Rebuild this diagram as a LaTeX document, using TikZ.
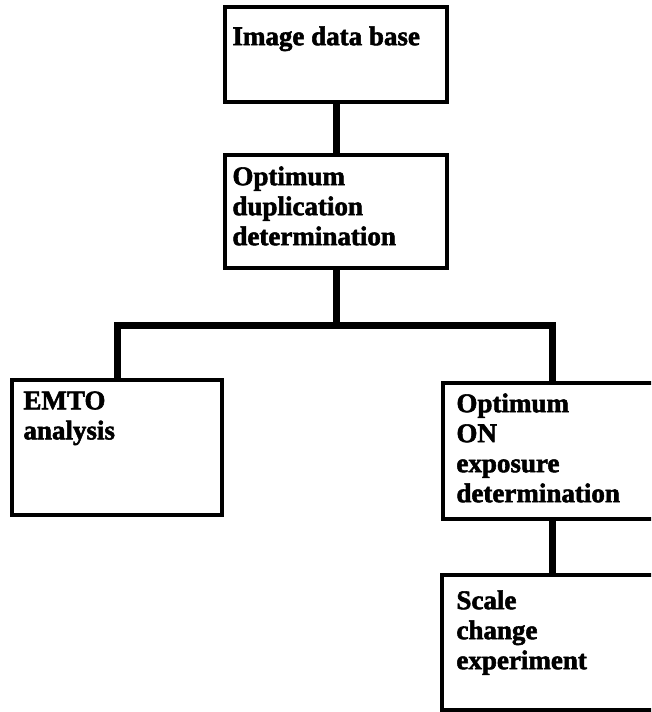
\documentclass[tikz,border=0pt]{standalone}
\usepackage{fontspec}
\setmainfont{Liberation Serif}[BoldFeatures={FakeBold=2}]
\usetikzlibrary{positioning}

\begin{document}
\begin{tikzpicture}[x=1pt, y=-1pt,
  box/.style={draw, line width=3.5pt, inner sep=0pt},
  lbl/.style={anchor=north west, inner sep=0pt, align=left,
    font=\fontsize{27}{30}\selectfont\bfseries},
  link/.style={line width=7pt}]
\clip (0,0) rectangle (651,712);
% Top of the chain
\node[box, minimum width=222pt, minimum height=95pt] (imgdb) at (336,54.5) {};
\node[lbl, xshift=9pt, yshift=-21pt] (imgdbtxt) at (imgdb.north west) {Image data base};
\node[box, minimum width=222pt, minimum height=113pt] (dup) at (336,211.5) {};
\node[lbl, xshift=9pt, yshift=-13pt] (duptxt) at (dup.north west)
  {Optimum\\duplication\\determination};

% Branches
\node[box, minimum width=210pt, minimum height=135pt] (emto) at (117,447.5) {};
\node[lbl, xshift=13pt, yshift=-13pt] (emtotxt) at (emto.north west) {EMTO\\analysis};
\node[box, minimum width=218pt, minimum height=136pt] (onexp) at (552,451) {};
\node[lbl, xshift=15pt, yshift=-12pt] (onexptxt) at (onexp.north west)
  {Optimum\\ON\\exposure\\determination};
\node[box, minimum width=220pt, minimum height=135pt] (scale) at (552,642.5) {};
\node[lbl, xshift=16pt, yshift=-17pt] (scaletxt) at (scale.north west)
  {Scale\\change\\experiment};

% Connectors
\coordinate (split) at (336,325);
\draw[link] (imgdb.south) -- (dup.north);
\draw[link] (dup.south) -- (split);
\draw[link] (emto.north) |- (split) -| (onexp.north);
\draw[link] (onexp.south) -- (scale.north);
\end{tikzpicture}
\end{document}
